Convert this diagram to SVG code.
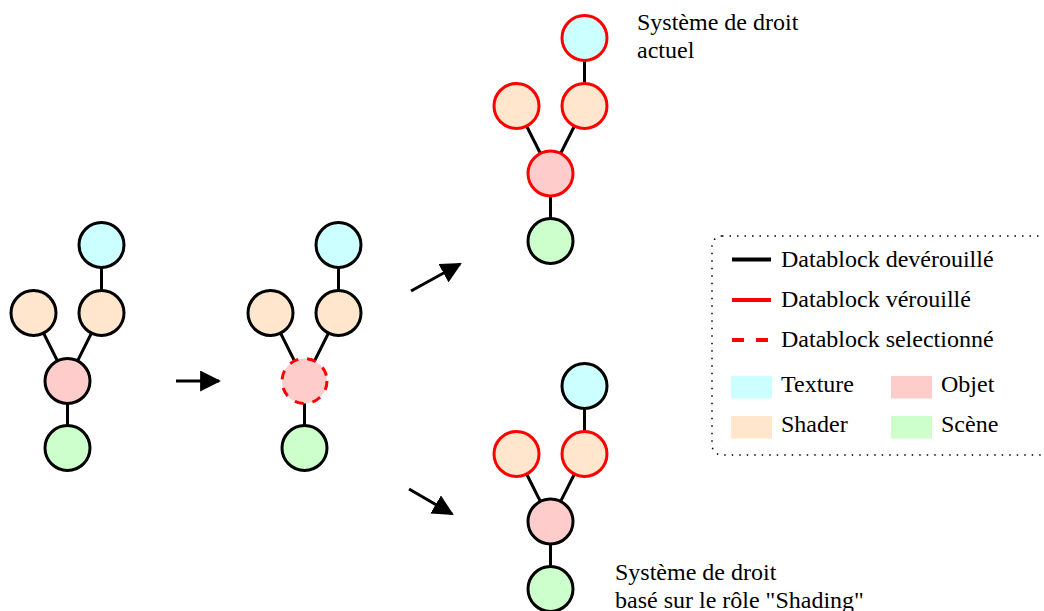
<svg xmlns="http://www.w3.org/2000/svg" width="1044" height="611" viewBox="0 0 1044 611">
<defs>
<style>
.n{stroke:#000;stroke-width:3}
.lk{stroke:#f00;stroke-width:3}
.sel{stroke:#f00;stroke-width:3;stroke-dasharray:9 9}
.tex{fill:#ccffff}
.sha{fill:#ffe6cc}
.obj{fill:#ffcccc}
.sce{fill:#ccffcc}
.e{stroke:#000;stroke-width:3;fill:none}
.arr{stroke:#000;stroke-width:3;fill:none}
.t{font-family:"Liberation Serif","Times New Roman",serif;font-size:24px;fill:#000}
</style>
<marker id="ah" viewBox="0 0 10 10" refX="9" refY="5" markerWidth="7" markerHeight="7" markerUnits="strokeWidth" orient="auto">
<path d="M0,0 L10,5 L0,10 Z" fill="#000"/>
</marker>
</defs>
<g id="connectors">
<line class="e" x1="101.5" y1="245" x2="101.5" y2="313"/>
<line class="e" x1="33.5" y1="313" x2="67.5" y2="381"/>
<line class="e" x1="101.5" y1="313" x2="67.5" y2="381"/>
<line class="e" x1="67.5" y1="381" x2="67.5" y2="448"/>
<line class="e" x1="338.5" y1="245" x2="338.5" y2="313"/>
<line class="e" x1="270.5" y1="313" x2="304.5" y2="381"/>
<line class="e" x1="338.5" y1="313" x2="304.5" y2="381"/>
<line class="e" x1="304.5" y1="381" x2="304.5" y2="448"/>
<line class="e" x1="584.5" y1="38" x2="584.5" y2="106"/>
<line class="e" x1="516.5" y1="106" x2="550.5" y2="173.5"/>
<line class="e" x1="584.5" y1="106" x2="550.5" y2="173.5"/>
<line class="e" x1="550.5" y1="173.5" x2="550.5" y2="241"/>
<line class="e" x1="584.5" y1="386" x2="584.5" y2="454"/>
<line class="e" x1="516.5" y1="454" x2="550.5" y2="521.5"/>
<line class="e" x1="584.5" y1="454" x2="550.5" y2="521.5"/>
<line class="e" x1="550.5" y1="521.5" x2="550.5" y2="589"/>
<line class="arr" x1="176" y1="381" x2="219" y2="381" marker-end="url(#ah)"/>
<line class="arr" x1="411" y1="291" x2="460" y2="264" marker-end="url(#ah)"/>
<line class="arr" x1="409" y1="489" x2="452" y2="514" marker-end="url(#ah)"/>
</g>
<g id="g1">
<circle id="g1-texture" class="n tex" cx="101.5" cy="245" r="22.5"/>
<circle id="g1-shader1" class="n sha" cx="33.5" cy="313" r="22.5"/>
<circle id="g1-shader2" class="n sha" cx="101.5" cy="313" r="22.5"/>
<circle id="g1-objet" class="n obj" cx="67.5" cy="381" r="22.5"/>
<circle id="g1-scene" class="n sce" cx="67.5" cy="448" r="22.5"/>
</g>
<g id="g2">
<circle id="g2-texture" class="n tex" cx="338.5" cy="245" r="22.5"/>
<circle id="g2-shader1" class="n sha" cx="270.5" cy="313" r="22.5"/>
<circle id="g2-shader2" class="n sha" cx="338.5" cy="313" r="22.5"/>
<circle id="g2-objet" class="sel obj" cx="304.5" cy="381" r="22.5"/>
<circle id="g2-scene" class="n sce" cx="304.5" cy="448" r="22.5"/>
</g>
<g id="g3">
<circle id="g3-texture" class="lk tex" cx="584.5" cy="38" r="22.5"/>
<circle id="g3-shader1" class="lk sha" cx="516.5" cy="106" r="22.5"/>
<circle id="g3-shader2" class="lk sha" cx="584.5" cy="106" r="22.5"/>
<circle id="g3-objet" class="lk obj" cx="550.5" cy="173.5" r="22.5"/>
<circle id="g3-scene" class="n sce" cx="550.5" cy="241" r="22.5"/>
<text id="g3-label" class="t" x="637" y="30">Système de droit<tspan x="637" y="58">actuel</tspan></text>
</g>
<g id="g4">
<circle id="g4-texture" class="n tex" cx="584.5" cy="386" r="22.5"/>
<circle id="g4-shader1" class="lk sha" cx="516.5" cy="454" r="22.5"/>
<circle id="g4-shader2" class="lk sha" cx="584.5" cy="454" r="22.5"/>
<circle id="g4-objet" class="n obj" cx="550.5" cy="521.5" r="22.5"/>
<circle id="g4-scene" class="n sce" cx="550.5" cy="589" r="22.5"/>
<text id="g4-label" class="t" x="615" y="580">Système de droit<tspan x="615" y="608">basé sur le rôle "Shading"</tspan></text>
</g>
<g id="legend">
<rect x="712" y="236" width="338" height="219" rx="10" ry="10" fill="none" stroke="#000" stroke-width="1.5" stroke-dasharray="1.5 6"/>
<line x1="732" y1="259.5" x2="771" y2="259.5" stroke="#000" stroke-width="4"/>
<line x1="732" y1="300" x2="771" y2="300" stroke="#f00" stroke-width="4"/>
<line x1="732" y1="340" x2="771" y2="340" stroke="#f00" stroke-width="4" stroke-dasharray="12 12"/>
<text class="t" x="781" y="267">Datablock devérouillé</text>
<text class="t" x="781" y="307">Datablock vérouillé</text>
<text class="t" x="781" y="347">Datablock selectionné</text>
<rect class="tex" x="731" y="376" width="41" height="22.5"/>
<rect class="sha" x="731" y="416" width="41" height="22.5"/>
<rect class="obj" x="891" y="376" width="41" height="22.5"/>
<rect class="sce" x="891" y="416" width="41" height="22.5"/>
<text class="t" x="781" y="392">Texture</text>
<text class="t" x="781" y="432">Shader</text>
<text class="t" x="941" y="392">Objet</text>
<text class="t" x="941" y="432">Scène</text>
</g>
</svg>
